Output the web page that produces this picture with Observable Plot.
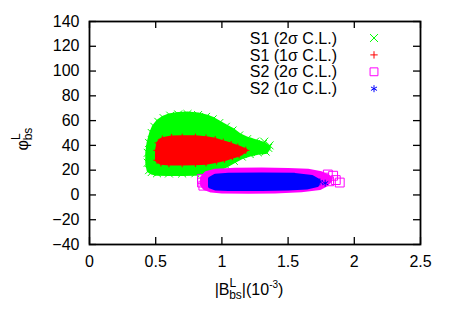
<!DOCTYPE html>
<html><head><meta charset="utf-8">
<script src="https://cdn.jsdelivr.net/npm/d3@7"></script>
<script src="https://cdn.jsdelivr.net/npm/@observablehq/plot@0.6"></script>
<style>
body{margin:0;background:#fff}
svg{font-family:"Liberation Sans",Arial,Helvetica,sans-serif}
</style>
</head><body><div id="chart"></div>
<script>
// ---- data ----
const xTicks = [0, 0.5, 1, 1.5, 2, 2.5];
const yTicks = [-40, -20, 0, 20, 40, 60, 80, 100, 120, 140];
const seriesNames = ["S1 (2σ C.L.)", "S1 (1σ C.L.)", "S2 (2σ C.L.)", "S2 (1σ C.L.)"];
const seriesColors = ["#00ff00", "#ff0000", "#ff00ff", "#0000ff"];
const seriesSymbols = ["times", "plus", "square", "asterisk"];
const seriesSizes = [3.7, 2.5, 5, 3.3];
const markOutline = [true, true, false, false];

// outlines of the point clouds (|B| in 1e-3, phi in degrees)
const s1TwoSigma = [[0.45,20],[0.44,26],[0.44,34],[0.45,42],[0.47,50],[0.49,55],[0.52,59],[0.56,62],[0.61,64],[0.67,65],[0.74,65.3],[0.82,64.5],[0.88,63],[0.93,61],[0.98,58],[1.03,55],[1.08,52],[1.13,48],[1.19,45],[1.25,43],[1.31,41],[1.35,38],[1.33,35],[1.27,34.5],[1.21,33],[1.15,31],[1.09,27.5],[1.03,24],[0.97,21],[0.89,18.5],[0.80,17.5],[0.70,17.3],[0.60,17.3],[0.51,17.5],[0.47,18.5]];
const s1OneSigma = [[0.51,28],[0.51,36],[0.52,42],[0.55,45],[0.62,46.3],[0.70,46.5],[0.80,46.5],[0.88,45.8],[0.95,44.5],[1.01,42.5],[1.07,40.5],[1.12,38.5],[1.18,36],[1.13,32.5],[1.08,31],[1.02,29],[0.96,27.5],[0.88,26],[0.80,25.5],[0.70,25.3],[0.60,25.3],[0.54,26]];
const s2TwoSigma = [[0.85,8],[0.85,14],[0.88,17.5],[0.95,19.5],[1.1,20.3],[1.3,20.5],[1.5,20.2],[1.65,19.5],[1.75,17.5],[1.81,14.5],[1.82,12],[1.79,8.5],[1.74,5.5],[1.6,3.8],[1.4,2.8],[1.2,2.6],[1.0,2.8],[0.92,3.5],[0.87,5.5]];
const s2OneSigma = [[0.91,7],[0.91,13],[0.95,15.5],[1.05,16.3],[1.3,16.5],[1.55,16.2],[1.68,14.5],[1.73,11.5],[1.72,8],[1.64,6],[1.5,5.2],[1.3,4.8],[1.05,4.8],[0.95,5.3]];
// sparse outlying / edge points
const s1TwoSigmaExtra = [[1.36,40],[1.32,43],[1.29,38.5]];
const s1OneSigmaExtra = [];
const s2TwoSigmaExtra = [[0.85,13],[0.85,10],[0.86,7.5],[1.77,14],[1.81,11],[1.84,15.5],[1.86,12],[1.89,10],[1.80,16.5]];
const s2OneSigmaExtra = [[1.78,9.5],[1.74,10.5]];

const outlines = [s1TwoSigma, s1OneSigma, s2TwoSigma, s2OneSigma];
const extras = [s1TwoSigmaExtra, s1OneSigmaExtra, s2TwoSigmaExtra, s2OneSigmaExtra];
const outlineStroke = [5, 4, 4, 4];

const marks = [];
outlines.forEach((pts, i) => {
  const rows = pts.map(([x, y]) => ({x, y}));
  const extraRows = extras[i].map(([x, y]) => ({x, y}));
  marks.push(Plot.line(rows, {x: "x", y: "y", curve: "linear-closed", fill: seriesColors[i], stroke: seriesColors[i], strokeWidth: outlineStroke[i], strokeLinejoin: "round"}));
  marks.push(Plot.dot(markOutline[i] ? rows.concat(extraRows) : extraRows, {x: "x", y: "y", symbol: seriesSymbols[i], r: seriesSizes[i], stroke: seriesColors[i], fill: "none", strokeWidth: 1}));
});

const W = 450, H = 315, ML = 89, MR = 30, MT = 21, MB = 71, TICK = 7;
const innerW = W - ML - MR, innerH = H - MT - MB;

const chart = Plot.plot({
  width: W, height: H,
  marginLeft: ML, marginRight: MR, marginTop: MT, marginBottom: MB,
  style: {fontSize: "16px", fontFamily: '"Liberation Sans", Arial, sans-serif', color: "black", background: "white"},
  x: {domain: [0, 2.5], ticks: xTicks},
  y: {domain: [-40, 140], ticks: yTicks},
  marks: [
    ...marks,
    Plot.axisX(xTicks, {anchor: "bottom", tickSize: 0, tickPadding: 11, label: null, fontSize: 16, tickFormat: d => String(d)}),
    Plot.axisY(yTicks, {anchor: "left", tickSize: 0, tickPadding: 10, label: null, fontSize: 16}),
    // inward mirrored ticks
    Plot.tickX(xTicks, {x: d => d, insetTop: innerH - TICK, stroke: "black", strokeWidth: 1.3}),
    Plot.tickX(xTicks, {x: d => d, insetBottom: innerH - TICK, stroke: "black", strokeWidth: 1.3}),
    Plot.tickY(yTicks, {y: d => d, insetRight: innerW - TICK, stroke: "black", strokeWidth: 1.3}),
    Plot.tickY(yTicks, {y: d => d, insetLeft: innerW - TICK, stroke: "black", strokeWidth: 1.3}),
    Plot.frame({stroke: "black", strokeWidth: 1.8})
  ]
});
document.getElementById("chart").appendChild(chart);

const svg = d3.select(chart);
// legend (gnuplot key)
const symbolTypes = {times: d3.symbolTimes, plus: d3.symbolPlus, square: d3.symbolSquare2, asterisk: d3.symbolAsterisk};
const key = svg.append("g").attr("font-size", 16);
seriesNames.forEach((name, i) => {
  const y = 38 + i * 16.9;
  key.append("text").attr("x", 337).attr("y", y).attr("dy", "0.35em").attr("text-anchor", "end").attr("fill", "black").text(name);
  key.append("path")
    .attr("transform", `translate(374,${y})`)
    .attr("d", d3.symbol(symbolTypes[seriesSymbols[i]], Math.PI * seriesSizes[i] * seriesSizes[i])())
    .attr("fill", "none").attr("stroke", seriesColors[i]).attr("stroke-width", 1);
});

// x axis label: |B^L_bs|(10^-3)
const xl = svg.append("text").attr("x", 249).attr("y", 295).attr("text-anchor", "middle").attr("font-size", 16).attr("fill", "black");
xl.append("tspan").text("|B");
xl.append("tspan").attr("dy", -8.5).attr("font-size", 12).text("L");
xl.append("tspan").attr("dx", -7).attr("dy", 12.5).attr("font-size", 12).text("bs");
xl.append("tspan").attr("dy", -4).text("|(10");
xl.append("tspan").attr("dy", -7).attr("font-size", 10).text("-3");
xl.append("tspan").attr("dy", 7).text(")");

// y axis label: phi^L_bs
const yl = svg.append("text").attr("transform", "translate(28,139) rotate(-90)").attr("text-anchor", "middle").attr("font-size", 16).attr("fill", "black");
yl.append("tspan").text("φ");
yl.append("tspan").attr("dy", -8.5).attr("font-size", 12).text("L");
yl.append("tspan").attr("dx", -7).attr("dy", 12.5).attr("font-size", 12).text("bs");
</script>
</body></html>
